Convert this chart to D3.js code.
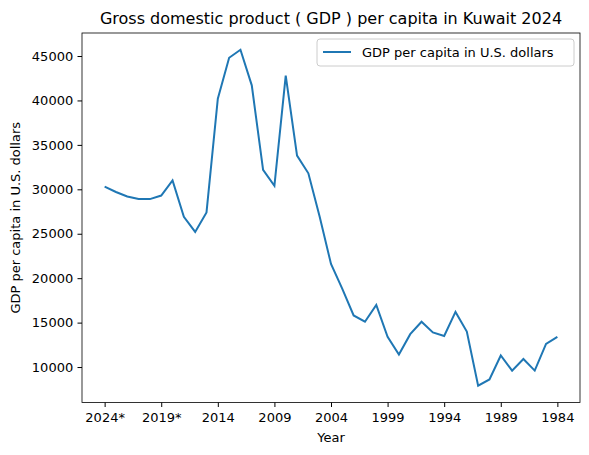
<!DOCTYPE html>
<html><head><meta charset="utf-8">
<script src="https://cdn.jsdelivr.net/npm/d3@7"></script>
<style>body{margin:0;background:#fff}text{font-family:"DejaVu Sans",sans-serif}</style>
</head><body><svg id="c" width="589" height="455"></svg>
<script>
const years = ["2024*","2023*","2022*","2021*","2020*","2019*","2018","2017","2016","2015","2014","2013","2012","2011","2010","2009","2008","2007","2006","2005","2004","2003","2002","2001","2000","1999","1998","1997","1996","1995","1994","1993","1992","1991","1990","1989","1988","1987","1986","1985","1984"];
const gdp = [30300,29700,29200,28900,28900,29300,31000,26900,25200,27400,40200,44800,45700,41700,32200,30400,42800,33800,31800,26900,21600,18800,15800,15100,17000,13400,11400,13700,15100,13900,13500,16200,14000,7900,8600,11300,9600,10900,9600,12600,13400];
const tickLabels = ["2024*","2019*","2014","2009","2004","1999","1994","1989","1984"];
const yTicks = [10000,15000,20000,25000,30000,35000,40000,45000];

const L=82, R=580, T=33, B=402.5;
const svg=d3.select("#c");
const x=d3.scaleLinear().domain([-2,years.length+1]).range([L,R]);
const y=d3.scaleLinear().domain([6010,47590]).range([B,T]);

const xa=svg.append("g").attr("transform",`translate(0,${B})`)
  .call(d3.axisBottom(x).tickValues(tickLabels.map(t=>years.indexOf(t))).tickFormat(i=>years[i]).tickSize(4.5).tickSizeOuter(0));
const ya=svg.append("g").attr("transform",`translate(${L},0)`)
  .call(d3.axisLeft(y).tickValues(yTicks).tickFormat(d3.format("d")).tickSize(4.5).tickSizeOuter(0));
[xa,ya].forEach(a=>{a.select(".domain").remove();a.selectAll("text").attr("font-size",13).attr("fill","#000");a.selectAll("line").attr("stroke","#000");});
xa.selectAll("text").attr("dy","0.95em");
ya.selectAll("text").attr("dx","-0.1em");

svg.append("rect").attr("x",L).attr("y",T).attr("width",R-L).attr("height",B-T)
  .attr("fill","none").attr("stroke","#000").attr("stroke-width",0.8);

svg.append("path").datum(gdp).attr("fill","none").attr("stroke","#1f77b4").attr("stroke-width",2)
  .attr("d",d3.line().x((d,i)=>x(i)).y(d=>y(d)));

svg.append("text").attr("x",(L+R)/2).attr("y",24).attr("text-anchor","middle").attr("font-size",16)
  .text("Gross domestic product ( GDP ) per capita in Kuwait 2024");
svg.append("text").attr("x",(L+R)/2).attr("y",442).attr("text-anchor","middle").attr("font-size",13).text("Year");
svg.append("text").attr("transform",`translate(20,${(T+B)/2}) rotate(-90)`).attr("text-anchor","middle").attr("font-size",13).text("GDP per capita in U.S. dollars");

const lg=svg.append("g");
lg.append("rect").attr("x",317).attr("y",39).attr("width",257).attr("height",27).attr("rx",3)
  .attr("fill","#fff").attr("stroke","#ccc");
lg.append("line").attr("x1",323).attr("x2",351).attr("y1",52).attr("y2",52).attr("stroke","#1f77b4").attr("stroke-width",2);
lg.append("text").attr("x",362).attr("y",57).attr("font-size",13).text("GDP per capita in U.S. dollars");
</script></body></html>
